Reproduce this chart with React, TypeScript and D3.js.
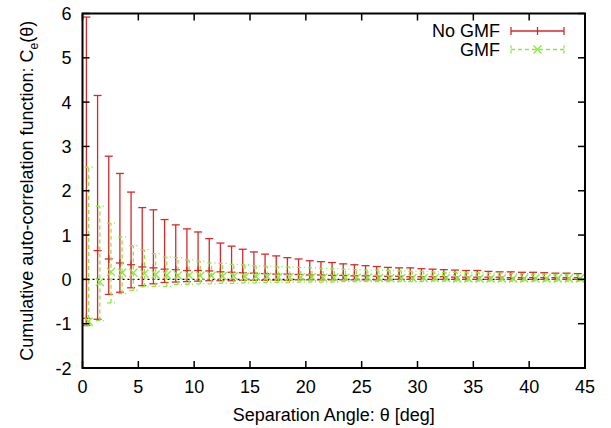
import React from "react";
import * as d3 from "d3";

const angles: number[] = [0,1,2,3,4,5,6,7,8,9,10,11,12,13,14,15,16,17,18,19,20,21,22,23,24,25,26,27,28,29,30,31,32,33,34,35,36,37,38,39,40,41,42,43,44];

const noGmfVal: number[] = [-0.88,0.65,0.46,0.37,0.33,0.28,0.26,0.23,0.22,0.20,0.20,0.19,0.17,0.16,0.15,0.14,0.13,0.12,0.12,0.11,0.10,0.10,0.09,0.09,0.08,0.08,0.07,0.07,0.07,0.06,0.06,0.06,0.06,0.05,0.05,0.05,0.05,0.05,0.04,0.04,0.04,0.04,0.04,0.04,0.04];
const noGmfLow: number[] = [-1.04,-0.90,-0.34,-0.29,-0.19,-0.14,-0.10,-0.07,-0.06,-0.05,-0.04,-0.03,-0.03,-0.03,-0.02,-0.02,-0.02,-0.02,-0.02,-0.01,-0.01,-0.01,-0.01,-0.01,-0.01,-0.01,-0.01,-0.01,0.00,0.00,0.00,0.00,0.00,0.00,0.00,0.00,0.00,0.00,0.00,0.00,0.00,0.00,0.00,0.00,0.00];
const noGmfHigh: number[] = [5.92,4.15,2.78,2.39,1.97,1.62,1.57,1.35,1.23,1.14,1.07,0.92,0.82,0.75,0.68,0.62,0.57,0.53,0.49,0.46,0.42,0.40,0.38,0.35,0.33,0.31,0.29,0.27,0.26,0.26,0.24,0.23,0.22,0.21,0.20,0.20,0.18,0.17,0.17,0.16,0.16,0.15,0.14,0.14,0.13];

const gmfVal: number[] = [-0.95,-0.06,0.17,0.15,0.15,0.13,0.11,0.10,0.09,0.09,0.08,0.08,0.07,0.07,0.06,0.06,0.06,0.05,0.05,0.05,0.05,0.04,0.04,0.04,0.04,0.04,0.03,0.03,0.03,0.03,0.03,0.03,0.03,0.02,0.02,0.02,0.02,0.02,0.02,0.02,0.02,0.02,0.02,0.02,0.02];
const gmfLow: number[] = [-1.05,-0.93,-0.53,-0.32,-0.25,-0.17,-0.16,-0.16,-0.12,-0.11,-0.10,-0.10,-0.09,-0.09,-0.08,-0.08,-0.07,-0.07,-0.07,-0.06,-0.06,-0.06,-0.06,-0.05,-0.05,-0.05,-0.05,-0.05,-0.05,-0.05,-0.05,-0.04,-0.04,-0.04,-0.04,-0.04,-0.04,-0.04,-0.04,-0.04,-0.04,-0.04,-0.04,-0.04,-0.04];
const gmfHigh: number[] = [2.53,1.65,1.27,0.96,0.76,0.67,0.58,0.50,0.49,0.44,0.41,0.37,0.36,0.34,0.33,0.31,0.30,0.29,0.28,0.27,0.26,0.25,0.24,0.23,0.22,0.21,0.21,0.20,0.19,0.18,0.18,0.17,0.16,0.16,0.15,0.15,0.14,0.14,0.13,0.13,0.12,0.12,0.11,0.11,0.10];

const xTicks: number[] = [0,5,10,15,20,25,30,35,40,45];
const yTicks: number[] = [-2,-1,0,1,2,3,4,5,6];

const W = 611, H = 428;
const L = 82.5, R = 585, T = 13.5, B = 368;
const FONT = "'Liberation Sans', Arial, sans-serif";
const RED = "#d42a2a";
const GREEN = "#8ee640";

export default function App() {
  const x = d3.scaleLinear().domain([0, 45]).range([L, R]);
  const y = d3.scaleLinear().domain([-2, 6]).range([B, T]);
  const cap = 4;
  const mk = 4;
  const redOff = 0.35, greenOff = 0.55;

  return (
    <svg width={W} height={H} style={{ position: "absolute", left: 0, top: 0, background: "#fff" }} fontFamily={FONT}>
      <rect width={W} height={H} fill="#fff" />
      {/* zero line */}
      <line x1={L} x2={R} y1={y(0)} y2={y(0)} stroke="#000" strokeWidth={1.2} strokeDasharray="2,3" />
      {/* No GMF series */}
      <g stroke={RED} strokeWidth={1.3} fill="none">
        {angles.map((a, i) => {
          const cx = x(a + redOff);
          return (
            <g key={"r" + i}>
              <line x1={cx} x2={cx} y1={y(noGmfLow[i])} y2={y(noGmfHigh[i])} />
              <line x1={cx - cap} x2={cx + cap} y1={y(noGmfLow[i])} y2={y(noGmfLow[i])} />
              <line x1={cx - cap} x2={cx + cap} y1={y(noGmfHigh[i])} y2={y(noGmfHigh[i])} />
              <line x1={cx - mk} x2={cx + mk} y1={y(noGmfVal[i])} y2={y(noGmfVal[i])} />
              <line x1={cx} x2={cx} y1={y(noGmfVal[i]) - mk} y2={y(noGmfVal[i]) + mk} />
            </g>
          );
        })}
      </g>
      {/* GMF series */}
      <g stroke={GREEN} strokeWidth={1.3} fill="none">
        {angles.map((a, i) => {
          const cx = x(a + greenOff);
          return (
            <g key={"g" + i}>
              <line x1={cx} x2={cx} y1={y(gmfLow[i])} y2={y(gmfHigh[i])} strokeDasharray="4,3" />
              <line x1={cx - cap} x2={cx + cap} y1={y(gmfLow[i])} y2={y(gmfLow[i])} strokeDasharray="4,3" />
              <line x1={cx - cap} x2={cx + cap} y1={y(gmfHigh[i])} y2={y(gmfHigh[i])} strokeDasharray="4,3" />
              <line x1={cx - mk} x2={cx + mk} y1={y(gmfVal[i]) - mk} y2={y(gmfVal[i]) + mk} />
              <line x1={cx - mk} x2={cx + mk} y1={y(gmfVal[i]) + mk} y2={y(gmfVal[i]) - mk} />
            </g>
          );
        })}
      </g>
      {/* frame */}
      <rect x={L} y={T} width={R - L} height={B - T} fill="none" stroke="#000" strokeWidth={2} />
      {/* ticks */}
      <g stroke="#000" strokeWidth={1.5}>
        {xTicks.map((t) => (
          <g key={"xt" + t}>
            <line x1={x(t)} x2={x(t)} y1={B} y2={B - 7} />
            <line x1={x(t)} x2={x(t)} y1={T} y2={T + 7} />
          </g>
        ))}
        {yTicks.map((t) => (
          <g key={"yt" + t}>
            <line x1={L} x2={L + 7} y1={y(t)} y2={y(t)} />
            <line x1={R} x2={R - 7} y1={y(t)} y2={y(t)} />
          </g>
        ))}
      </g>
      <g fontSize={18} fill="#000">
        {xTicks.map((t) => (
          <text key={"xl" + t} x={x(t)} y={B + 25} textAnchor="middle">{t}</text>
        ))}
        {yTicks.map((t) => (
          <text key={"yl" + t} x={L - 11} y={y(t) + 6.5} textAnchor="end">{t}</text>
        ))}
        <text x={(L + R) / 2} y={421} textAnchor="middle">Separation Angle: θ [deg]</text>
        <text transform={`translate(33,${(T + B) / 2}) rotate(-90)`} textAnchor="middle">
          Cumulative auto-correlation function: C<tspan fontSize={12} dy={5}>e</tspan><tspan dy={-5}>(θ)</tspan>
        </text>
      </g>
      {/* legend */}
      <g fontSize={18}>
        <text x={500} y={37} textAnchor="end">No GMF</text>
        <text x={500} y={55.5} textAnchor="end">GMF</text>
        <g stroke={RED} strokeWidth={1.3}>
          <line x1={511} x2={564} y1={31} y2={31} />
          <line x1={511} x2={511} y1={31 - cap} y2={31 + cap} />
          <line x1={564} x2={564} y1={31 - cap} y2={31 + cap} />
          <line x1={537.5} x2={537.5} y1={31 - mk} y2={31 + mk} />
        </g>
        <g stroke={GREEN} strokeWidth={1.3}>
          <line x1={511} x2={564} y1={49.5} y2={49.5} strokeDasharray="4,3" />
          <line x1={511} x2={511} y1={49.5 - cap} y2={49.5 + cap} strokeDasharray="3,2" />
          <line x1={564} x2={564} y1={49.5 - cap} y2={49.5 + cap} strokeDasharray="3,2" />
          <line x1={537.5 - mk} x2={537.5 + mk} y1={49.5 - mk} y2={49.5 + mk} />
          <line x1={537.5 - mk} x2={537.5 + mk} y1={49.5 + mk} y2={49.5 - mk} />
        </g>
      </g>
    </svg>
  );
}
